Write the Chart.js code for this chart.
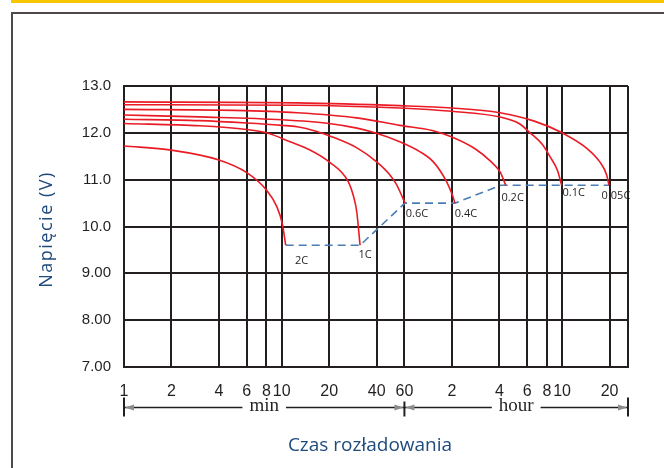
<!DOCTYPE html>
<html>
<head>
<meta charset="utf-8">
<script src="https://cdn.jsdelivr.net/npm/chart.js@4/dist/chart.umd.min.js"></script>
<style>
  html, body { margin: 0; background: #fff; overflow: hidden; }
  canvas { display: block; }
</style>
</head>
<body>
<canvas id="myChart" width="664" height="468"></canvas>
<script>
// discharge time in minutes, voltage in V
var curveNames = ["2C", "1C", "0.6C", "0.4C", "0.2C", "0.1C", "0.05C"];

var time2C = [1, 2, 4, 6, 8, 9.3, 10.1, 10.6];
var volt2C = [11.72, 11.63, 11.42, 11.15, 10.78, 10.43, 10.05, 9.6];

var time1C = [1, 3, 6, 8, 11.3, 15, 20, 26.4, 28.5, 29.9, 31.4];
var volt1C = [12.2, 12.15, 12.07, 12.0, 11.81, 11.64, 11.38, 10.96, 10.65, 10.32, 9.6];

var time06C = [1, 3, 6, 10, 12.5, 16.7, 20, 30, 40, 48, 53.6, 57, 60.5];
var volt06C = [12.29, 12.26, 12.21, 12.16, 12.13, 12.03, 11.94, 11.68, 11.38, 11.12, 10.89, 10.7, 10.5];

var time04C = [1, 3, 10, 20, 30, 39, 56, 75, 91.5, 111, 120, 125.6];
var volt04C = [12.38, 12.34, 12.28, 12.2, 12.1, 12.0, 11.81, 11.6, 11.38, 10.96, 10.7, 10.5];

var time02C = [1, 5, 12.5, 30, 56, 90, 120, 170, 210, 242, 255, 263];
var volt02C = [12.5, 12.48, 12.43, 12.32, 12.16, 12.05, 11.91, 11.65, 11.4, 11.17, 11.0, 10.88];

var time01C = [1, 12.5, 56, 120, 242, 320, 376, 450, 503, 560, 596];
var volt01C = [12.6, 12.59, 12.53, 12.46, 12.34, 12.2, 12.0, 11.75, 11.49, 11.2, 10.88];

var time005C = [1, 12.5, 56, 120, 242, 400, 600, 860, 1040, 1150, 1189];
var volt005C = [12.66, 12.64, 12.58, 12.53, 12.43, 12.25, 12.0, 11.67, 11.38, 11.1, 10.88];

var cutoffTime = [10.6, 31.4, 60.5, 125.6, 245, 1189];
var cutoffVolt = [9.6, 9.6, 10.5, 10.5, 10.88, 10.88];

var xTickValues = [1, 2, 4, 6, 8, 10, 20, 40, 60, 120, 240, 360, 480, 600, 1200];
var xTickLabels = ["1", "2", "4", "6", "8", "10", "20", "40", "60", "2", "4", "6", "8", "10", "20"];
var xMax = 1570;

var yTickValues = [7, 8, 9, 10, 11, 12, 13];
var yTickLabels = ["7.00", "8.00", "9.00", "10.0", "11.0", "12.0", "13.0"];

var curveTimes = [time2C, time1C, time06C, time04C, time02C, time01C, time005C];
var curveVolts = [volt2C, volt1C, volt06C, volt04C, volt02C, volt01C, volt005C];

function toPoints(ts, vs) {
  return ts.map(function (t, i) { return { x: t, y: vs[i] }; });
}

var datasets = curveNames.map(function (name, i) {
  return {
    label: name,
    data: toPoints(curveTimes[i], curveVolts[i]),
    borderColor: "#ea1b25",
    borderWidth: 1.6,
    pointRadius: 0,
    cubicInterpolationMode: "monotone",
    fill: false
  };
});
datasets.push({
  label: "cutoff",
  data: toPoints(cutoffTime, cutoffVolt),
  borderColor: "#4a7db3",
  borderWidth: 1.6,
  borderDash: [8, 5],
  pointRadius: 0,
  tension: 0,
  fill: false
});

var ink = "#231f20";
var blue = "#1f4a7c";

// white page, yellow strip and frame corner
var frame = {
  id: "frame",
  beforeDraw: function (chart) {
    var ctx = chart.ctx;
    ctx.save();
    ctx.fillStyle = "#fff";
    ctx.fillRect(0, 0, chart.width, chart.height);
    ctx.fillStyle = "#f7c600";
    ctx.fillRect(11, 0, chart.width - 11, 3);
    ctx.fillStyle = "#4e4848";
    ctx.fillRect(11, 12, chart.width - 11, 2);
    ctx.fillRect(11, 12, 2, chart.height - 12);
    ctx.restore();
  }
};

// small labels at the end of every curve
var endLabels = {
  id: "endLabels",
  afterDatasetsDraw: function (chart) {
    var offs = [[16, 16], [5, 10], [12, 11], [11, 11], [7, 13], [12, 8], [7, 11]];
    var ctx = chart.ctx;
    ctx.save();
    ctx.font = "11px 'Open Sans', sans-serif";
    ctx.fillStyle = ink;
    ctx.textAlign = "center";
    ctx.textBaseline = "middle";
    curveNames.forEach(function (name, i) {
      var pts = chart.getDatasetMeta(i).data;
      var p = pts[pts.length - 1];
      ctx.fillText(name, p.x + offs[i][0], p.y + offs[i][1]);
    });
    ctx.restore();
  }
};

// axis titles, min / hour span under the axis
var extras = {
  id: "extras",
  afterDraw: function (chart) {
    var ctx = chart.ctx;
    var area = chart.chartArea;
    var xs = chart.scales.x;
    var y = area.bottom + 40.5;
    var x0 = xs.getPixelForValue(1);
    var x1 = xs.getPixelForValue(60);
    var x2 = xs.getPixelForValue(xMax);
    ctx.save();
    ctx.strokeStyle = ink;
    ctx.lineWidth = 2;
    ctx.beginPath();
    ctx.moveTo(x0, y - 10); ctx.lineTo(x0, y + 9);
    ctx.moveTo(x1, y - 6); ctx.lineTo(x1, y + 9);
    ctx.moveTo(x2, y - 10); ctx.lineTo(x2, y + 9);
    ctx.stroke();
    ctx.font = "19px 'Liberation Serif', 'Times New Roman', serif";
    ctx.textAlign = "center";
    ctx.textBaseline = "middle";
    drawSpan(ctx, x0, x1, y, "min");
    drawSpan(ctx, x1, x2, y, "hour");

    ctx.fillStyle = blue;
    ctx.textBaseline = "alphabetic";
    ctx.font = "19px 'Open Sans', sans-serif";
    ctx.fillText("Czas rozładowania", (area.left + area.right) / 2 - 6, area.bottom + 84);

    ctx.translate(47, (area.top + area.bottom) / 2 + 3);
    ctx.rotate(-Math.PI / 2);
    ctx.font = "18px 'Open Sans', sans-serif";
    ctx.letterSpacing = "1.5px";
    ctx.textBaseline = "middle";
    ctx.fillText("Napięcie (V)", 0, 0);
    ctx.restore();
  }
};

function drawSpan(ctx, a, b, y, text) {
  var mid = (a + b) / 2;
  var half = ctx.measureText(text).width / 2 + 7;
  ctx.lineWidth = 1.5;
  ctx.strokeStyle = ink;
  ctx.beginPath();
  ctx.moveTo(a, y); ctx.lineTo(mid - half, y);
  ctx.moveTo(mid + half, y); ctx.lineTo(b, y);
  ctx.stroke();
  ctx.fillStyle = "#8c8c8c";
  ctx.beginPath();
  ctx.moveTo(a + 1, y); ctx.lineTo(a + 10, y - 3); ctx.lineTo(a + 10, y + 3);
  ctx.closePath();
  ctx.moveTo(b - 1, y); ctx.lineTo(b - 10, y - 3); ctx.lineTo(b - 10, y + 3);
  ctx.closePath();
  ctx.fill();
  ctx.fillStyle = ink;
  ctx.fillText(text, mid, y - 1);
}

Chart.defaults.font.family = "'Liberation Sans', Arial, sans-serif";
Chart.defaults.color = ink;

new Chart("myChart", {
  type: "line",
  data: { datasets: datasets },
  plugins: [frame, endLabels, extras],
  options: {
    responsive: false,
    animation: false,
    layout: { padding: { left: 0, top: 86, right: 36, bottom: 0 } },
    plugins: {
      legend: { display: false },
      tooltip: { enabled: false }
    },
    scales: {
      x: {
        type: "logarithmic",
        min: 1,
        max: xMax,
        afterBuildTicks: function (scale) {
          scale.ticks = xTickValues.concat([xMax]).map(function (v) { return { value: v }; });
        },
        afterFit: function (scale) { scale.height = 101; },
        grid: { color: ink, lineWidth: 2, drawTicks: false },
        border: { display: true, color: ink, width: 2 },
        ticks: {
          autoSkip: false,
          maxRotation: 0,
          padding: 15,
          font: { size: 16 },
          color: ink,
          callback: function (v, i) {
            return xTickLabels[i] !== undefined ? xTickLabels[i] : "";
          }
        }
      },
      y: {
        min: 7,
        max: 13,
        afterBuildTicks: function (scale) {
          scale.ticks = yTickValues.map(function (v) { return { value: v }; });
        },
        afterFit: function (scale) { scale.width = 124; },
        grid: { color: ink, lineWidth: 2, drawTicks: false },
        border: { display: true, color: ink, width: 2 },
        ticks: {
          padding: 13,
          font: { size: 15 },
          color: ink,
          callback: function (v, i) { return yTickLabels[i]; }
        }
      }
    }
  }
});
</script>
</body>
</html>
